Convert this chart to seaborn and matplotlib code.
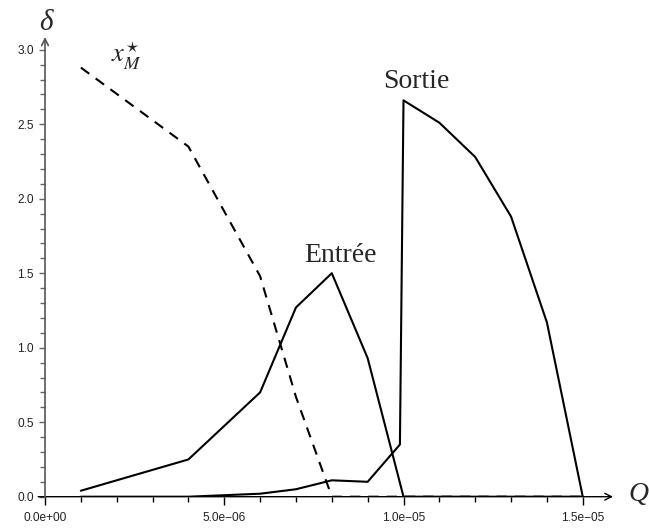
import matplotlib
matplotlib.use('Agg')
import matplotlib.pyplot as plt
import seaborn as sns
import pandas as pd
from matplotlib.ticker import FixedLocator

# ---- data ----
entree_q = [1e-6, 4e-6, 6e-6, 7e-6, 8e-6, 9e-6, 10e-6, 15e-6]
entree_d = [0.04, 0.25, 0.70, 1.27, 1.50, 0.93, 0.0, 0.0]

sortie_q = [1e-6, 4e-6, 6e-6, 7e-6, 8e-6, 9e-6, 9.9e-6, 10e-6, 11e-6, 12e-6, 13e-6, 14e-6, 15e-6]
sortie_d = [0.0, 0.0, 0.02, 0.05, 0.11, 0.10, 0.35, 2.66, 2.51, 2.28, 1.88, 1.17, 0.0]

xm_q = [1e-6, 4e-6, 6e-6, 7e-6, 8e-6, 15e-6]
xm_d = [2.88, 2.35, 1.48, 0.67, 0.0, 0.0]

x_major = [0.0, 5e-6, 1e-5, 1.5e-5]
x_labels = ["0.0e+00", "5.0e\u221206", "1.0e\u221205", "1.5e\u221205"]
y_major = [0.0, 0.5, 1.0, 1.5, 2.0, 2.5, 3.0]
y_labels = ["0.0", "0.5", "1.0", "1.5", "2.0", "2.5", "3.0"]
x_minor = [i * 1e-6 for i in range(16)]
y_minor = [i / 10 for i in range(31)]

sns.set_style("white")
plt.rcParams['font.family'] = ['Liberation Sans', 'DejaVu Sans']
plt.rcParams['mathtext.fontset'] = 'stix'

W, H = 649, 531
fig = plt.figure(figsize=(W / 100, H / 100), dpi=100)
x0, x1 = 45, 613
y0, y1 = 496.7, 37
ax = fig.add_axes([x0 / W, (H - y0) / H, (x1 - x0) / W, (y0 - y1) / H])

df_e = pd.DataFrame({"Q": entree_q, "d": entree_d})
df_s = pd.DataFrame({"Q": sortie_q, "d": sortie_d})
df_x = pd.DataFrame({"Q": xm_q, "d": xm_d})

sns.lineplot(data=df_e, x="Q", y="d", ax=ax, color="black", lw=1.5, estimator=None, sort=False)
sns.lineplot(data=df_s, x="Q", y="d", ax=ax, color="black", lw=1.5, estimator=None, sort=False)
sns.lineplot(data=df_x, x="Q", y="d", ax=ax, color="black", lw=1.5, estimator=None, sort=False,
             linestyle=(0, (5, 3.8)))

ax.set_xlim(0, (x1 - x0) / 35.85 * 1e-6)
ax.set_ylim(0, (y0 - y1) / 149.0)
ax.set_xlabel("")
ax.set_ylabel("")
for s in ax.spines.values():
    s.set_visible(False)

ax.set_xticks(x_major, labels=x_labels)
ax.xaxis.set_minor_locator(FixedLocator(x_minor))
ax.set_yticks(y_major, labels=y_labels)
ax.yaxis.set_minor_locator(FixedLocator(y_minor))

ax.tick_params(axis='x', which='major', direction='out', length=5.8, width=1.0,
               color='black', labelsize=8.6, labelcolor='#222222', pad=5.5, bottom=True)
ax.tick_params(axis='x', which='minor', direction='out', length=3.6, width=1.0,
               color='black', bottom=True)
ax.tick_params(axis='y', which='major', direction='out', length=4.6, width=1.0,
               color='#666666', labelsize=8.6, labelcolor='#222222', pad=3.5, left=True)
ax.tick_params(axis='y', which='minor', direction='out', length=3.4, width=1.0,
               color='#666666', left=True)

# axes with arrows
ax.annotate('', xy=(1, 0), xytext=(-0.012, 0), xycoords='axes fraction',
            arrowprops=dict(arrowstyle='->', lw=1.0, color='black',
                            shrinkA=0, shrinkB=0, mutation_scale=12), annotation_clip=False)
ax.annotate('', xy=(0, 1), xytext=(0, 0), xycoords='axes fraction',
            arrowprops=dict(arrowstyle='->', lw=1.2, color='#555555',
                            shrinkA=0, shrinkB=0, mutation_scale=12), annotation_clip=False)

def ft(px, py, s, **kw):
    fig.text(px / W, 1 - py / H, s, **kw)

serif = ['Liberation Serif', 'DejaVu Serif']
ft(340.5, 261.7, "Entrée", ha='center', va='baseline', fontsize=20, family=serif)
ft(416.3, 88.3, "Sortie", ha='center', va='baseline', fontsize=20, family=serif)
ft(111, 62, r"$x^{\star}_{M}$", ha='left', va='baseline', fontsize=19)
ft(45.5, 29.5, "δ", ha='center', va='baseline', fontsize=21, family=serif, style='italic')
ft(628, 501, "Q", ha='left', va='baseline', fontsize=20, family=serif, style='italic')

fig.savefig("out.png", dpi=100)
